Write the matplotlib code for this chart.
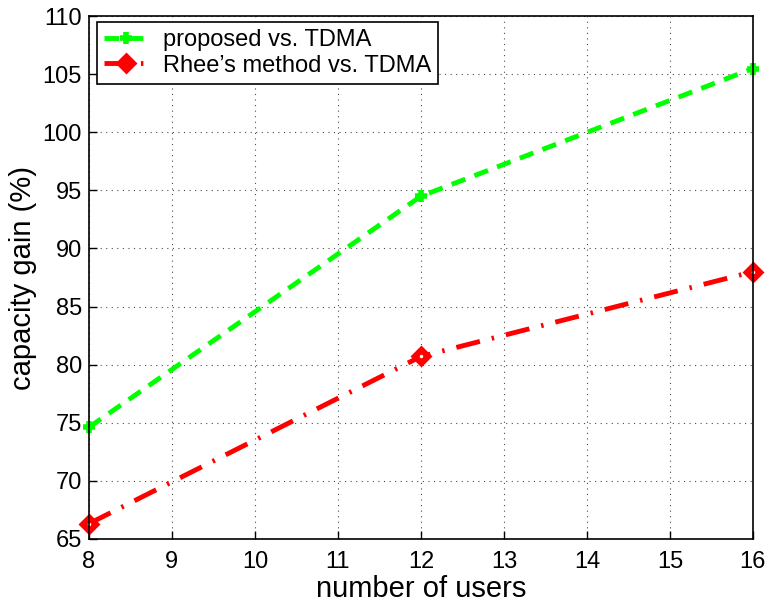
import numpy as np
import matplotlib
matplotlib.use("Agg")
import matplotlib.pyplot as plt

plt.rcParams['font.family'] = ['Liberation Sans', 'DejaVu Sans']

# data
users = [8, 12, 16]
proposed = [74.6, 94.5, 105.5]
rhee = [66.3, 80.7, 88.0]

fig = plt.figure(figsize=(7.73, 6.02), dpi=100)
ax = fig.add_axes([0.115, 0.105, 0.859, 0.868])

ax.plot(users, proposed, color="#00ff00", linestyle=(0, (3, 2)), linewidth=3.5,
        marker="+", markersize=9, markeredgewidth=4,
        label="proposed vs. TDMA")
ax.plot(users, rhee, color="red", linestyle=(0, (5, 2.5, 0.5, 2.5)), linewidth=3.5,
        marker="D", markersize=9, markerfacecolor="red", markeredgewidth=2,
        label="Rhee\u2019s method vs. TDMA")
# small white centre of the diamond markers
ax.plot(users, rhee, linestyle="none", marker="o", markersize=2.5,
        markerfacecolor="white", markeredgewidth=0, clip_on=False)

ax.set_xlim(8, 16)
ax.set_ylim(65, 110)
ax.set_xticks(np.arange(8, 17, 1))
ax.set_yticks(np.arange(65, 111, 5))
ax.tick_params(direction="in", labelsize=17, length=6, width=1)
ax.tick_params(axis="x", pad=9)
ax.tick_params(axis="y", pad=5)
ax.grid(True, linestyle=(0, (1, 4)), color="black", linewidth=0.8, alpha=0.7)
for s in ax.spines.values():
    s.set_linewidth(1.2)
for ln in ax.lines:
    ln.set_clip_on(False)

ax.set_xlabel("number of users", fontsize=21, labelpad=1)
ax.set_ylabel("capacity gain (%)", fontsize=21, labelpad=4)

leg = ax.legend(ax.lines[:2], [l.get_label() for l in ax.lines[:2]],
                loc="upper left", bbox_to_anchor=(0.012, 0.989), fontsize=17,
                frameon=True, fancybox=False, framealpha=1, edgecolor="black",
                borderpad=0.3, handlelength=1.9, handletextpad=0.6,
                labelspacing=0.15, borderaxespad=0)
leg.get_frame().set_linewidth(1.2)

fig.savefig("out.png", dpi=100)
